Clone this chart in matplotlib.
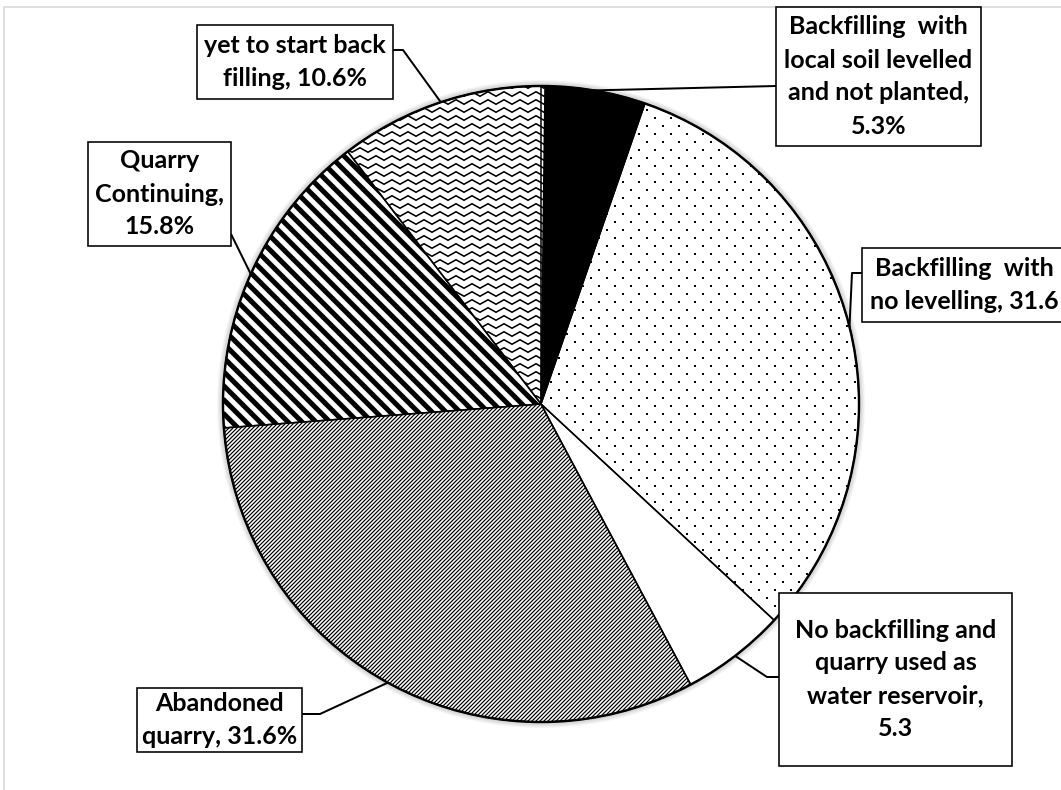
import numpy as np
import matplotlib
matplotlib.use('Agg')
import matplotlib.pyplot as plt
from matplotlib.patches import Wedge, Circle, Rectangle
from matplotlib.collections import LineCollection

plt.rcParams['font.family'] = ['Lato', 'DejaVu Sans']

# reclamation status of quarries (% of sites), clockwise from 12 o'clock
shares = [5.3, 31.6, 5.3, 31.6, 15.8, 10.6]
value_text = ['5.3%', '31.6', '5.3', '31.6%', '15.8%', '10.6%']
label_lines = [
    ['Backfilling  with', 'local soil levelled', 'and not planted,', '{v}'],
    ['Backfilling  with', 'no levelling, {v}'],
    ['No backfilling and', 'quarry used as', 'water reservoir,', '{v}'],
    ['Abandoned', 'quarry, {v}'],
    ['Quarry', 'Continuing,', '{v}'],
    ['yet to start back', 'filling, {v}'],
]
fills = ['solid', 'dots', 'none', 'fine', 'stripes', 'wave']

# label boxes (x0, y0, x1, y1) and leader elbows, in pixels
boxes = [(776, 7, 981, 146), (862, 248, 1067, 322), (779, 593, 1012, 766),
         (137, 688, 302, 752), (88, 142, 231, 246), (197, 25, 393, 99)]
elbows = [[(776, 86)], [(852, 273), (862, 273)], [(767, 677), (779, 677)],
          [(320, 714), (302, 714)], [(231, 234)], [(403, 50), (393, 50)]]

W, H = 1061, 790
cx, cy, R = 541, 404, 318
px = 0.72  # points per pixel at 100 dpi

fig = plt.figure(figsize=(W/100, H/100), dpi=100)
ax = fig.add_axes([0, 0, 1, 1])
ax.set_xlim(0, W)
ax.set_ylim(H, 0)
ax.axis('off')

# chart area border
ax.plot([4, 4, W+5], [H+5, 7, 7], color='#d9d9d9', lw=1.2, zorder=0)

# soft glow round the pie
for k in range(1, 7):
    ax.add_patch(Circle((cx, cy), R+k, facecolor='#000000', alpha=0.035, lw=0, zorder=1))

def hatch_lines(segs, lw, wedge):
    lc = LineCollection(segs, colors='black', linewidths=lw, capstyle='butt', zorder=3)
    ax.add_collection(lc)
    lc.set_clip_path(wedge)

edges = np.concatenate([[0], np.cumsum(shares)]) / 100.0 * 360.0
mids = []
for i, kind in enumerate(fills):
    t1, t2 = edges[i] - 90, edges[i+1] - 90
    mids.append(np.radians((edges[i] + edges[i+1]) / 2.0))
    w = Wedge((cx, cy), R, t1, t2, facecolor='black' if kind == 'solid' else 'white',
              edgecolor='none', zorder=2)
    ax.add_patch(w)
    if kind == 'dots':
        ys = np.arange(cy - R, cy + R, 8)
        pts = []
        for j, y in enumerate(ys):
            xs = np.arange(cx - R + (8 if j % 2 else 0), cx + R, 16)
            pts += [(x, y) for x in xs]
        pts = np.array(pts)
        sc = ax.scatter(pts[:, 0], pts[:, 1], s=2.4, marker='s', c='black', lw=0, zorder=3)
        sc.set_clip_path(w)
    elif kind == 'wave':
        # stepped zigzag rows
        xs = np.arange(cx - R, cx + R, 1.0)
        tri = 2*np.abs(((xs / 16.0) % 1.0) - 0.5) - 0.5
        segs = [np.column_stack([xs, y + 4.5*tri]) for y in np.arange(cy - R, cy + R, 8)]
        hatch_lines(segs, 1.6*px, w)
    elif kind == 'stripes':
        segs = [[(cx - R, cx - R + c), (cx + R, cx + R + c)]
                for c in np.arange(-2*R, 2*R, 14)]
        hatch_lines(segs, 5.0*px, w)
    elif kind == 'fine':
        segs = [[(cx - R, c - (cx - R)), (cx + R, c - (cx + R))]
                for c in np.arange(cx + cy - 2*R, cx + cy + 2*R, 4)]
        hatch_lines(segs, 1.2*px, w)
    # slice outline on top of the fill
    ax.add_patch(Wedge((cx, cy), R, t1, t2, facecolor='none', edgecolor='black',
                       lw=1.5*px, zorder=4))

ax.add_patch(Circle((cx, cy), R, facecolor='none', edgecolor='black', lw=2.4*px, zorder=5))

# labels with leader lines
for i in range(len(shares)):
    x0, y0, x1, y1 = boxes[i]
    ax.add_patch(Rectangle((x0, y0), x1 - x0, y1 - y0, facecolor='white',
                           edgecolor='black', lw=1.6*px, zorder=6))
    lines = [s.replace('{v}', value_text[i]) for s in label_lines[i]]
    yc = (y0 + y1) / 2.0
    n = len(lines)
    for j, s in enumerate(lines):
        ax.text((x0 + x1) / 2.0, yc + (j - (n - 1) / 2.0) * 33, s, ha='center', va='center',
                fontsize=18, fontweight='bold', color='black', zorder=7)
    start = (cx + R*np.sin(mids[i]), cy - R*np.cos(mids[i]))
    path = np.array([start] + elbows[i])
    ax.plot(path[:, 0], path[:, 1], color='black', lw=2.0*px, zorder=5.5,
            solid_capstyle='butt')

fig.savefig('out.png', dpi=100)
